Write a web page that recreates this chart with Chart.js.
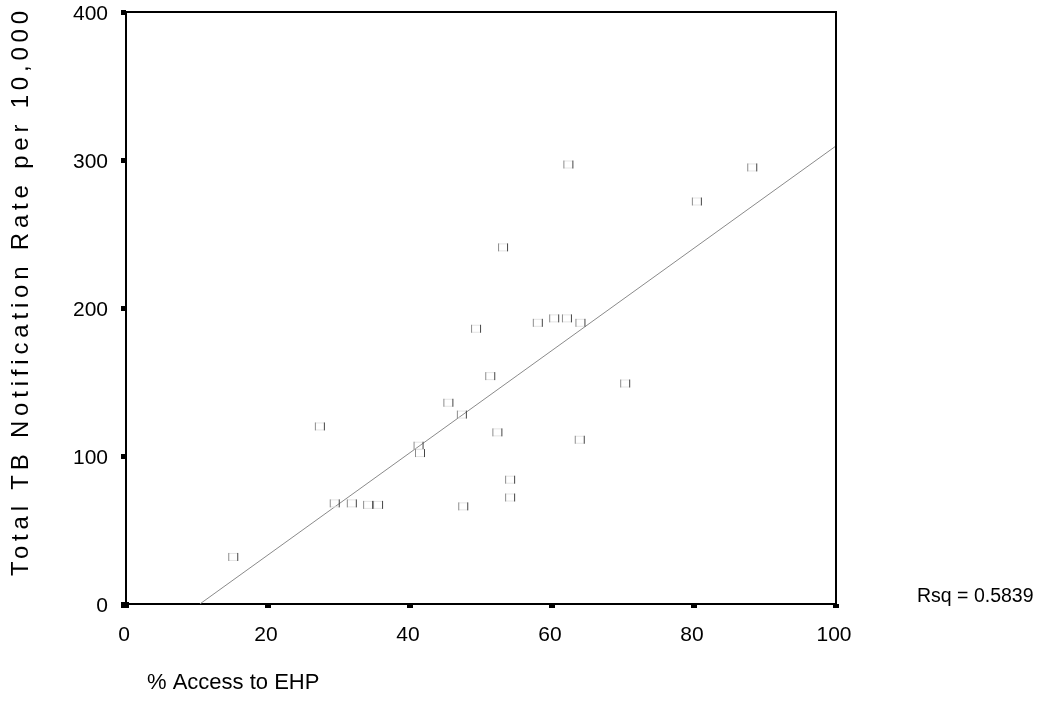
<!DOCTYPE html>
<html>
<head>
<meta charset="utf-8">
<script src="https://cdn.jsdelivr.net/npm/chart.js@4.4.1/dist/chart.umd.min.js"></script>
<style>
  html, body { margin: 0; padding: 0; background: #fff; }
  canvas { display: block; }
</style>
</head>
<body>
<canvas id="c" width="1051" height="721"></canvas>
<script>
// ---- data ----
const accessEHP = [15.1, 27.3, 29.4, 31.8, 34.1, 35.5, 41.2, 41.4, 45.4, 47.3, 47.5, 52.3, 54.1, 54.1, 51.3, 49.3, 53.1, 62.3, 80.4, 88.2, 70.3, 63.9, 58.0, 60.3, 62.1, 64.0];
const tbRate    = [31.8, 120, 68, 68, 67, 67, 107, 102, 136, 128, 66, 116, 84, 72, 154, 186, 241, 297, 272, 295, 149, 111, 190, 193, 193, 190];
const fitX = [10.4, 100];
const fitY = [0, 309.5];
const xTicks = [0, 20, 40, 60, 80, 100];
const yTicks = [0, 100, 200, 300, 400];
const xTitle = '% Access to EHP';
const yTitle = 'Total TB Notification Rate per 10,000';
const rsqText = 'Rsq = 0.5839';

const FONT = '"Liberation Sans", Arial, sans-serif';

// marker: faint open square, mainly its vertical edges visible
function makeMarker() {
  const m = document.createElement('canvas');
  m.width = 12; m.height = 10;
  const g = m.getContext('2d');
  g.fillStyle = '#8c8c8c'; g.fillRect(1, 1, 1, 8);
  g.fillStyle = '#444444'; g.fillRect(10, 1, 1, 8);
  g.fillStyle = '#e4e4e4'; g.fillRect(2, 1, 8, 1); g.fillRect(2, 8, 8, 1);
  return m;
}
const marker = makeMarker();

const scatterData = accessEHP.map((x, i) => ({ x: x, y: tbRate[i] }));
const lineData = fitX.map((x, i) => ({ x: x, y: fitY[i] }));

const decor = {
  id: 'decor',
  afterDraw(chart) {
    const ctx = chart.ctx;
    const a = chart.chartArea;
    const xs = chart.scales.x, ys = chart.scales.y;
    ctx.save();
    // frame top & right
    ctx.strokeStyle = '#000';
    ctx.lineWidth = 2;
    ctx.beginPath();
    ctx.moveTo(a.left, a.top); ctx.lineTo(a.right, a.top); ctx.lineTo(a.right, a.bottom);
    ctx.stroke();
    // tick squares
    ctx.fillStyle = '#000';
    xTicks.forEach(v => {
      const px = xs.getPixelForValue(v);
      ctx.fillRect(px - 3, a.bottom, 6, 4);
    });
    yTicks.forEach(v => {
      const py = ys.getPixelForValue(v);
      ctx.fillRect(a.left - 5, py - 2, 5, 5);
    });
    ctx.fillRect(a.left - 5, a.bottom - 2, 8, 6);
    // titles
    ctx.fillStyle = '#000';
    ctx.font = '22px ' + FONT;
    ctx.textAlign = 'left';
    ctx.textBaseline = 'middle';
    ctx.fillText(xTitle, 147, 683);
    ctx.font = '19.5px ' + FONT;
    ctx.fillText(rsqText, 917, 597);
    // rotated y title with letter spacing
    ctx.save();
    ctx.translate(21, 291);
    ctx.rotate(-Math.PI / 2);
    ctx.font = '24px ' + FONT;
    ctx.letterSpacing = '4.8px';
    ctx.textAlign = 'center';
    ctx.fillText(yTitle, 0, 0);
    ctx.restore();
    ctx.restore();
  }
};

new Chart(document.getElementById('c'), {
  type: 'scatter',
  data: {
    datasets: [
      {
        label: 'fit',
        type: 'line',
        data: lineData,
        borderColor: '#8a8a8a',
        borderWidth: 1,
        pointRadius: 0,
        fill: false,
        order: 2
      },
      {
        label: 'cases',
        data: scatterData,
        pointStyle: marker,
        pointRadius: 6,
        order: 1
      }
    ]
  },
  plugins: [decor],
  options: {
    responsive: false,
    animation: false,
    devicePixelRatio: 1,
    layout: { padding: { top: 12, right: 215, left: 0, bottom: 0 } },
    plugins: { legend: { display: false }, tooltip: { enabled: false } },
    scales: {
      x: {
        type: 'linear',
        min: 0, max: 100,
        afterFit(s) { s.height = 117; s.paddingLeft = 0; s.paddingRight = 0; },
        afterBuildTicks(s) { s.ticks = xTicks.map(v => ({ value: v })); },
        grid: { display: false, drawTicks: false },
        border: { display: true, color: '#000', width: 2 },
        ticks: { color: '#000', font: { family: FONT, size: 21 }, padding: 19, labelOffset: -2 }
      },
      y: {
        type: 'linear',
        min: 0, max: 400,
        afterFit(s) { s.width = 126; s.paddingTop = 0; s.paddingBottom = 0; },
        afterBuildTicks(s) { s.ticks = yTicks.map(v => ({ value: v })); },
        grid: { display: false, drawTicks: false },
        border: { display: true, color: '#000', width: 2 },
        ticks: { color: '#000', font: { family: FONT, size: 21 }, padding: 18, labelOffset: 2 }
      }
    }
  }
});
</script>
</body>
</html>
